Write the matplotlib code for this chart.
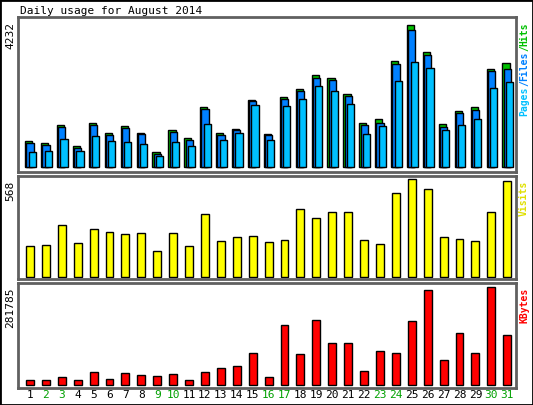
import matplotlib
matplotlib.use('Agg')
import matplotlib.pyplot as plt
from matplotlib.patches import Rectangle

days = list(range(1, 32))
weekend = [2, 3, 9, 10, 16, 17, 23, 24, 30, 31]
hits = [765, 707, 1268, 629, 1326, 1007, 1239, 1007, 445, 1094, 862, 1791, 1007, 1123, 1994, 978,
        2081, 2343, 2749, 2662, 2197, 1326, 1423, 3156, 4232, 3446, 1297, 1675, 1791, 2923, 3098]
files = [707, 649, 1210, 561, 1268, 949, 1152, 978, 397, 1036, 803, 1733, 949, 1094, 1965, 949,
         2023, 2285, 2662, 2604, 2110, 1268, 1326, 3069, 4085, 3359, 1210, 1617, 1704, 2865, 2923]
pages = [445, 484, 833, 484, 920, 774, 745, 687, 339, 745, 629, 1297, 803, 1007, 1849, 803,
         1820, 2023, 2430, 2285, 1878, 978, 1239, 2575, 3127, 2952, 1094, 1268, 1442, 2372, 2546]
visits = [181, 187, 300, 199, 282, 264, 252, 258, 151, 258, 181, 365, 211, 234, 240, 205,
          216, 395, 342, 377, 377, 216, 193, 491, 568, 514, 234, 222, 211, 377, 556]
kbytes = [12800, 12800, 21700, 12800, 36500, 15800, 33500, 27600, 24600, 30500, 12800, 36500,
          48300, 54200, 92600, 21700, 172400, 89600, 187200, 119200, 119200, 39400, 98500, 92600,
          184200, 272900, 71900, 148800, 92600, 281785, 142800]

W, H = 533, 405
fig = plt.figure(figsize=(W / 100, H / 100), dpi=100)
fig.patch.set_facecolor('white')
fig.patches.append(Rectangle((0, 0), 1, 1, transform=fig.transFigure, fill=False,
                             edgecolor='black', lw=2))
mono = 'DejaVu Sans Mono'


def panel(x0, y0, x1, y1):
    # pixel box (top-left origin) -> axes
    ax = fig.add_axes([x0 / W, 1 - y1 / H, (x1 - x0) / W, (y1 - y0) / H])
    for s in ax.spines.values():
        s.set_edgecolor('#606060')
        s.set_linewidth(2)
    ax.set_xticks([])
    ax.set_yticks([])
    ax.set_xlim(-0.75, 30.55)
    return ax


def side_text(y_top_px, parts):
    # vertical multi-coloured label on the right, reading bottom to top
    y = y_top_px
    for txt, col in reversed(parts):
        fig.text(524 / W, 1 - y / H, txt, color=col, rotation=90, family=mono,
                 fontsize=7, weight='bold', ha='center', va='top')
        y += len(txt) * 5.85


x = [d - 1 for d in days]
ax1 = panel(18, 17, 516, 172)
ax1.bar([i - 0.3 for i in x], hits, width=0.45, align='edge', color='#00c000', edgecolor='black', lw=1)
ax1.bar([i - 0.22 for i in x], files, width=0.45, align='edge', color='#0080ff', edgecolor='black', lw=1)
ax1.bar([i - 0.08 for i in x], pages, width=0.45, align='edge', color='#00c0ff', edgecolor='black', lw=1)
ax1.set_ylim(-150, max(hits) * 1.06)
fig.text(10 / W, 1 - 22 / H, str(max(hits)), rotation=90, family=mono, fontsize=8, ha='center', va='top')
side_text(22, [('Pages', '#00c0ff'), ('/', '#0080ff'), ('Files', '#0080ff'), ('/', '#00c000'), ('Hits', '#00c000')])
fig.text(20 / W, 1 - 11 / H, 'Daily usage for August 2014', family=mono, fontsize=8, va='center')

ax2 = panel(18, 176, 516, 279)
ax2.bar(x, visits, width=0.5, color='#ffff00', edgecolor='black', lw=1)
ax2.set_ylim(-12, max(visits) * 1.035)
fig.text(10 / W, 1 - 181 / H, str(max(visits)), rotation=90, family=mono, fontsize=8, ha='center', va='top')
side_text(181, [('Visits', '#e0e000')])

ax3 = panel(18, 283, 516, 388)
ax3.bar(x, kbytes, width=0.5, color='#ff0000', edgecolor='black', lw=1)
ax3.set_ylim(-9000, max(kbytes) * 1.04)
fig.text(10 / W, 1 - 288 / H, str(max(kbytes)), rotation=90, family=mono, fontsize=8, ha='center', va='top')
side_text(288, [('KBytes', '#ff0000')])

for d in days:
    xp = ax3.transData.transform((d - 1, 0))[0] / W
    fig.text(xp, 1 - 395 / H, str(d), family=mono, fontsize=8, ha='center', va='center',
             color='#00a000' if d in weekend else 'black')

fig.savefig('out.png', dpi=100)
